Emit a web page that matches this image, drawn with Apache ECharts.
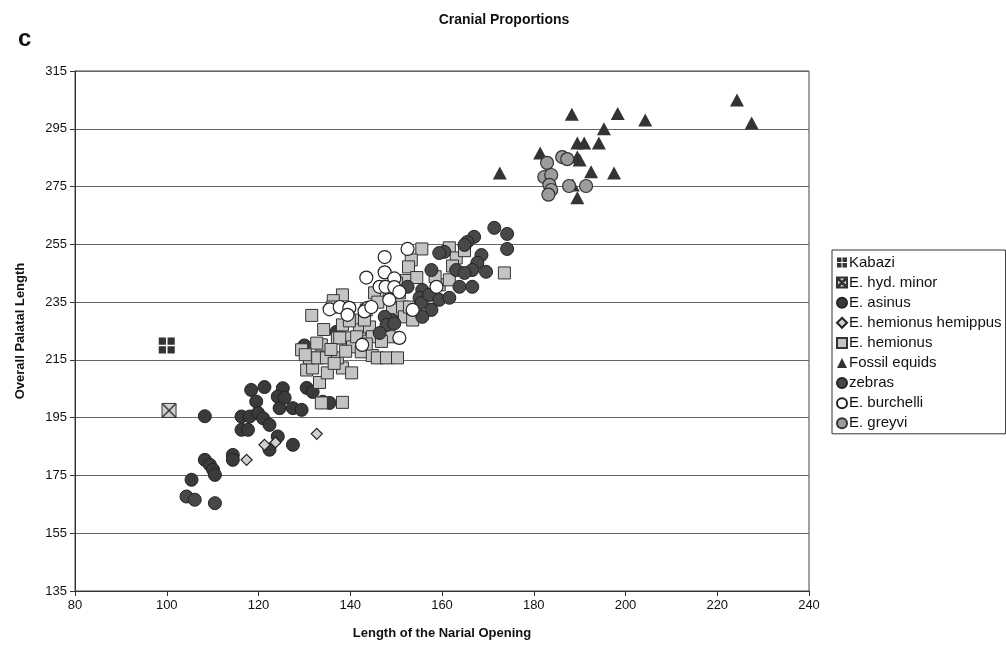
<!DOCTYPE html>
<html>
<head>
<meta charset="utf-8">
<script src="https://cdn.jsdelivr.net/npm/echarts@6/dist/echarts.min.js"></script>
<style>html,body{margin:0;padding:0;background:#fff;}#c{width:1006px;height:645px;}</style>
</head>
<body>
<div id="c"></div>
<script>
const yTicks = [135,155,175,195,215,235,255,275,295,315];
const kabazi = [[100,220]];
const hydMinor = [[100.5,197.5]];
const asinus = [[108.3,195.5],[118.4,204.6],[121.3,205.6],[125.3,205.2],[119.5,200.6],[124.2,202.3],[124.6,198.3],[127.5,198.3],[116.3,195.4],[118.1,195.4],[119.9,196.6],[121,194.8],[122.4,192.5],[116.3,190.8],[117.7,190.8],[124.2,188.5],[122.4,183.9],[127.5,185.6],[114.4,182.1],[114.4,180.4],[108.3,180.4],[109.4,178.7],[110.1,177],[110.5,175.2],[105.4,173.5],[125.7,201.9],[129.4,197.7],[130.5,205.3],[131.8,203.9],[134,200.5],[135.5,200.1],[130,220],[137,224.7]];
const hemippus = [[117.4,180.4],[121.3,185.6],[123.7,186.4],[132.7,189.4]];
const hemionus = [[133.7,200.1],[138.3,200.3],[133.3,207.2],[135,210.5],[138.3,212.2],[140.3,210.5],[130.5,211.5],[131.8,212.2],[131.1,215.7],[132.9,215.7],[134.8,215.7],[137.2,215.7],[129.4,218.5],[133.7,220.2],[132.7,220.8],[137.2,222.6],[139.4,222.6],[134.2,225.5],[131.6,230.4],[138.3,237.5],[136.3,235.5],[141.4,228.8],[142,225.4],[140.5,219.5],[142.4,217.8],[144.8,216.5],[145.9,215.7],[147.9,215.7],[150.3,215.7],[145.3,238.2],[144.2,226.4],[144.8,223],[148.5,223],[149.2,232.3],[151.4,233.3],[151.8,229.9],[173.6,245.1],[155.6,253.4],[153.3,249.6],[152.7,247.2],[161.6,253.8],[163.1,250.3],[164.9,252.8],[150.7,238.2],[152.9,233.3],[153.6,228.8],[159.4,241],[161.6,242.7],[157.9,236.6],[152.2,242.5],[155.4,235.8],[148.5,238.5],[150.1,241.6],[143.5,232.3],[143.1,228.8],[141.4,223],[138.3,227.1],[136.1,233.3],[137.7,222.6],[130.2,216.8],[135.8,218.6],[139,218],[136.5,213.8],[146.8,221.4],[143.5,220.5],[139.8,228.5],[146,235],[154.5,243.5],[158.5,243.8],[162.3,247.5]];
const fossil = [[181.4,286.6],[188.3,300],[198.3,300.3],[204.3,298],[195.3,295],[189.5,290.1],[191,290.1],[194.2,290.1],[189.5,285.2],[190,284.2],[192.5,280.1],[197.5,279.7],[189.5,271.1],[172.6,279.7],[224.3,305],[227.5,297],[188.5,275.5]];
const zebras = [[171.4,260.7],[174.2,258.6],[174.2,253.4],[167,257.6],[165.5,255.8],[164.9,254.8],[160.5,252.4],[159.4,252],[168.6,251.3],[167.7,248.6],[169.6,245.5],[166.6,246.1],[163.1,246.1],[164.9,245.1],[157.7,246.1],[163.8,240.3],[166.6,240.3],[152.5,240.3],[155.7,239.2],[155.1,236.5],[155.5,234.7],[157.2,237.5],[159.4,235.8],[161.6,236.5],[157.7,232.3],[155.7,229.9],[149.2,228.8],[147.5,229.9],[147.9,227.1],[146.4,224.3],[149.6,227.6],[104.3,167.7],[106.1,166.6],[110.5,165.4]];
const burchelli = [[135.5,232.5],[137.7,233.3],[139.8,233],[139.4,230.6],[143.5,243.5],[147.5,245.3],[149.6,243.2],[146.4,240.3],[147.7,240.3],[149.6,240.2],[143.8,233],[143.1,231.8],[144.6,233.3],[142.6,220.2],[150.7,222.6],[152.5,253.4],[147.5,250.6],[158.8,240.3],[153.6,232.3],[150.7,238.5],[148.5,235.8]];
const greyvi = [[182.9,283.2],[182.3,278.3],[183.8,279],[183.4,275.6],[183.8,273.8],[187.7,275.2],[191.4,275.2],[186.2,285.2],[187.3,284.5],[183.2,272.2]];

const FONT = "'Liberation Sans', Arial, sans-serif";
const chart = echarts.init(document.getElementById('c'), null, {renderer:'canvas'});
function sc(name, data, symbol, size, color, border, bw) {
  return {name, type:'scatter', data, symbol, symbolSize:size,
    itemStyle:{color, borderColor:border, borderWidth:bw, opacity:1},
    emphasis:{disabled:true}, animation:false};
}
const kabPath = 'path://M0,0h9v9h-9z M11,0h9v9h-9z M0,11h9v9h-9z M11,11h9v9h-9z';
const xPath = 'path://M0,0H20V20H0Z M1.5,0.5L19.5,18.5L18.5,19.5L0.5,1.5Z M18.5,0.5L19.5,1.5L1.5,19.5L0.5,18.5Z';
chart.setOption({
  backgroundColor:'#fff',
  animation:false,
  title:[{text:'Cranial Proportions', left:499, top:8, textAlign:'center',
          textStyle:{fontFamily:FONT, fontSize:14, fontWeight:'bold', color:'#111'}},
         {text:'c', left:13, top:22, textStyle:{fontFamily:FONT, fontSize:24, fontWeight:'bold', color:'#111'}}],
  grid:{left:75, right:197, top:71, bottom:54, show:true, borderColor:'#444', borderWidth:1, containLabel:false},
  legend:{orient:'vertical', left:832, top:250, borderColor:'#333', borderWidth:1, borderRadius:0,
    padding:[5,4,3,4], itemGap:5.1, itemWidth:10, itemHeight:10, backgroundColor:'#fff',
    textStyle:{fontFamily:FONT, fontSize:15, color:'#111', lineHeight:14, padding:[0,0,0,-3]},
    selectedMode:false,
    data:['Kabazi','E. hyd. minor','E. asinus','E. hemionus hemippus','E. hemionus','Fossil equids','zebras','E. burchelli','E. greyvi']},
  xAxis:{type:'value', min:80, max:240, interval:20,
    name:'Length of the Narial Opening', nameLocation:'middle', nameGap:36,
    nameTextStyle:{fontFamily:FONT, fontSize:13, fontWeight:'bold', color:'#111'},
    axisLine:{show:true, onZero:false, lineStyle:{color:'#333', width:1}},
    axisTick:{show:true, length:5, lineStyle:{color:'#333'}},
    axisLabel:{fontFamily:FONT, fontSize:13, color:'#111', margin:8},
    splitLine:{show:false}},
  yAxis:{type:'value', min:135, max:315,
    name:'Overall Palatal Length', nameLocation:'middle', nameGap:48,
    nameTextStyle:{fontFamily:FONT, fontSize:13, fontWeight:'bold', color:'#111'},
    axisLine:{show:true, lineStyle:{color:'#333', width:1}},
    axisTick:{show:true, length:5, lineStyle:{color:'#333'}, customValues:yTicks},
    axisLabel:{fontFamily:FONT, fontSize:13, color:'#111', margin:8, customValues:yTicks},
    splitLine:{show:true, lineStyle:{color:'#666', width:1}}},
  series:[
    sc('Kabazi', kabazi, kabPath, 16, '#333', '#333', 0),
    sc('E. hyd. minor', hydMinor, xPath, 14, '#d0d0d0', '#333', 1),
    sc('E. asinus', asinus, 'circle', 13, '#3a3a3a', '#222', 1),
    sc('E. hemionus hemippus', hemippus, 'diamond', 11, '#cfcfcf', '#222', 1.2),
    sc('E. hemionus', hemionus, 'rect', 12, '#c4c4c4', '#333', 1),
    sc('Fossil equids', fossil, 'triangle', [14,13], '#333', '#333', 0),
    sc('zebras', zebras, 'circle', 13, '#484848', '#222', 1),
    sc('E. burchelli', burchelli, 'circle', 13, '#ffffff', '#222', 1.2),
    sc('E. greyvi', greyvi, 'circle', 13, '#9c9c9c', '#333', 1.2)
  ]
});
</script>
</body>
</html>
